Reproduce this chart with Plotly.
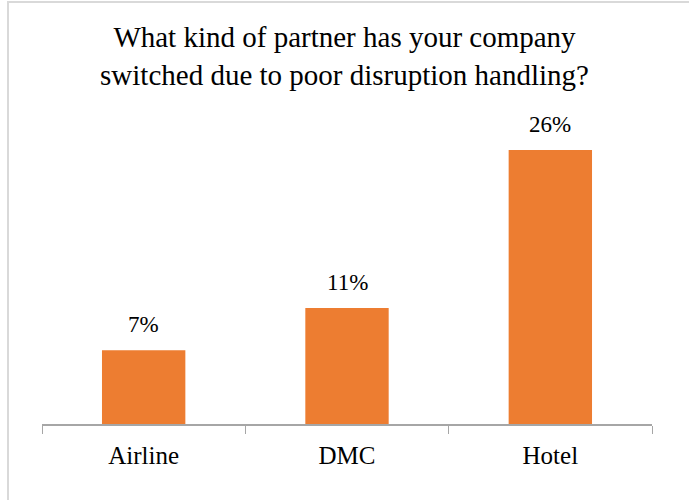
import plotly.graph_objects as go

# Survey results: share of respondents whose company switched partner type
categories = ["Airline", "DMC", "Hotel"]
shares = [7, 11, 26]  # percent
value_labels = [f"{v}%" for v in shares]

title_text = "What kind of partner has your company<br>switched due to poor disruption handling?"

BAR_COLOR = "#ED7D31"
AXIS_COLOR = "#A6A6A6"
FONT = "Liberation Serif, DejaVu Serif, serif"

fig = go.Figure(
    go.Bar(
        x=categories,
        y=shares,
        marker=dict(color=BAR_COLOR, line=dict(width=0)),
        width=0.41,
        hoverinfo="skip",
    )
)

# Value labels above each bar
for cat, val, lab in zip(categories, shares, value_labels):
    fig.add_annotation(
        x=cat, y=val, text=lab, showarrow=False,
        yanchor="bottom", yshift=11,
        font=dict(family=FONT, size=23, color="#000000"),
    )

# Light frame around the whole chart
fig.add_shape(
    type="rect", xref="paper", yref="paper",
    x0=-0.0557, x1=1.2, y0=-0.6, y1=1.3526,
    line=dict(color="#D9D9D9", width=2), fillcolor="rgba(0,0,0,0)",
    layer="below",
)

fig.update_layout(
    width=689, height=500,
    margin=dict(l=42, r=37, t=112, b=76),
    paper_bgcolor="white", plot_bgcolor="white",
    showlegend=False,
    title=dict(
        text=title_text, x=0.5, xanchor="center",
        y=0.906, yanchor="middle",
        font=dict(family=FONT, size=29, color="#000000"),
    ),
    xaxis=dict(
        type="category",
        tickson="boundaries",
        ticks="outside", ticklen=8, tickwidth=1.3, tickcolor=AXIS_COLOR,
        showline=True, linecolor=AXIS_COLOR, linewidth=1.5,
        showgrid=False, zeroline=False,
        ticklabelstandoff=8,
        tickfont=dict(family=FONT, size=25, color="#000000"),
        range=[-0.5, 2.5],
    ),
    yaxis=dict(
        range=[0, 29.6], visible=False, showgrid=False, zeroline=False,
    ),
)

fig.write_html("out.html")
